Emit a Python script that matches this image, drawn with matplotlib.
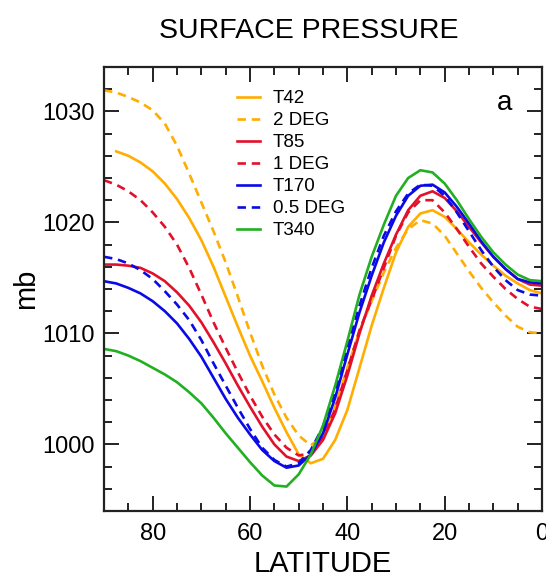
import numpy as np
import matplotlib
matplotlib.use("Agg")
import matplotlib.pyplot as plt
from matplotlib.ticker import MultipleLocator

plt.rcParams['font.family'] = ['Liberation Sans', 'DejaVu Sans']

# latitude grid (deg N), 90 -> 0 every 2.5
lat = np.arange(90, -0.1, -2.5)

t42 = [np.nan, 1026.4, 1026.0, 1025.4, 1024.6, 1023.5, 1022.1, 1020.4, 1018.4,
       1016.0, 1013.3, 1010.6, 1008.0, 1005.7, 1003.3, 1001.1, 999.1, 998.3,
       998.7, 1000.4, 1003.1, 1006.9, 1010.7, 1014.1, 1017.3, 1019.6, 1020.8,
       1021.1, 1020.5, 1019.4, 1018.2, 1017.1, 1016.1, 1015.2, 1014.5, 1013.9,
       1013.6]
deg2 = [1031.9, 1031.7, 1031.3, 1030.8, 1030.1, 1028.9, 1026.9, 1024.4, 1021.8,
        1019.2, 1016.4, 1013.3, 1010.1, 1007.1, 1004.5, 1002.4, 1000.8, 999.9,
        1000.8, 1003.4, 1006.9, 1010.2, 1012.9, 1015.5, 1017.7, 1019.4, 1020.2,
        1019.9, 1018.8, 1017.2, 1015.6, 1014.1, 1012.8, 1011.6, 1010.6, 1010.1,
        1010.0]
t85 = [1016.2, 1016.2, 1016.1, 1015.9, 1015.4, 1014.7, 1013.7, 1012.5, 1011.0,
       1009.2, 1007.3, 1005.3, 1003.4, 1001.6, 1000.0, 998.9, 998.5, 999.0,
       1000.4, 1002.8, 1006.2, 1010.0, 1013.4, 1016.3, 1018.9, 1021.1, 1022.4,
       1022.8, 1022.2, 1021.0, 1019.6, 1018.2, 1016.9, 1015.8, 1014.9, 1014.4,
       1014.3]
deg1 = [1023.8, 1023.4, 1022.8, 1022.0, 1020.9, 1019.6, 1018.0, 1015.9, 1013.5,
        1011.0, 1008.7, 1006.5, 1004.4, 1002.5, 1000.9, 999.7, 999.0, 999.2,
        1000.6, 1003.2, 1006.7, 1010.3, 1013.0, 1015.9, 1018.8, 1020.9, 1022.0,
        1022.0, 1020.9, 1019.4, 1017.8, 1016.3, 1015.1, 1014.0, 1013.1, 1012.4,
        1012.2]
t170 = [1014.7, 1014.5, 1014.1, 1013.6, 1012.9, 1012.0, 1010.9, 1009.5, 1007.9,
        1006.0, 1004.1, 1002.4, 1000.9, 999.5, 998.5, 997.9, 998.1, 999.1,
        1001.0, 1004.2, 1008.1, 1011.9, 1015.2, 1018.2, 1020.6, 1022.4, 1023.3,
        1023.4, 1022.7, 1021.4, 1019.9, 1018.3, 1016.9, 1015.8, 1014.9, 1014.6,
        1014.5]
deg05 = [1016.9, 1016.7, 1016.3, 1015.7, 1014.9, 1013.8, 1012.6, 1011.2, 1009.4,
         1007.3, 1005.3, 1003.3, 1001.4, 999.7, 998.6, 998.0, 998.3, 999.5,
         1001.6, 1004.8, 1008.7, 1012.5, 1015.9, 1018.8, 1021.0, 1022.6, 1023.4,
         1023.3, 1022.4, 1020.9, 1019.2, 1017.5, 1016.0, 1014.8, 1013.9, 1013.5,
         1013.4]
t340 = [1008.6, 1008.4, 1008.0, 1007.5, 1006.9, 1006.3, 1005.6, 1004.7, 1003.7,
        1002.4, 1001.0, 999.7, 998.4, 997.2, 996.3, 996.2, 997.3, 999.1,
        1001.7, 1005.3, 1009.3, 1013.5, 1016.9, 1019.8, 1022.4, 1024.0, 1024.7,
        1024.5, 1023.5, 1022.0, 1020.3, 1018.7, 1017.3, 1016.2, 1015.3, 1014.8,
        1014.7]

names = ['T42', '2 DEG', 'T85', '1 DEG', 'T170', '0.5 DEG', 'T340']
series = [t42, deg2, t85, deg1, t170, deg05, t340]
orange, red, blue, green = '#FFAD00', '#E3102C', '#0A0AE6', '#22B022'
colors = [orange, orange, red, red, blue, blue, green]
dashed = [False, True, False, True, False, True, False]

fig = plt.figure(figsize=(5.46, 5.77), dpi=100)
ax = fig.add_axes([0.1905, 0.1144, 0.8022, 0.7695])

for y, name, c, d in zip(series, names, colors, dashed):
    ax.plot(lat, y, color=c, lw=1.9, label=name,
            ls=(0, (3.2, 2.2)) if d else '-')

ax.set_xlim(90, 0)
ax.set_ylim(994, 1034)
ax.xaxis.set_major_locator(MultipleLocator(20))
ax.xaxis.set_minor_locator(MultipleLocator(5))
ax.yaxis.set_major_locator(MultipleLocator(10))
ax.yaxis.set_minor_locator(MultipleLocator(2))
ax.tick_params(which='both', direction='in', top=True, right=True,
               width=1.4, color='#222222', labelsize=17)
ax.tick_params(which='major', length=10.5, pad=7)
ax.tick_params(which='minor', length=5.5)
ax.tick_params(axis='x', which='major', pad=9)
for s in ax.spines.values():
    s.set_linewidth(1.6)
    s.set_color('#222222')

ax.set_xlabel('LATITUDE', fontsize=21, labelpad=3)
ax.set_ylabel('mb', fontsize=21, labelpad=1.5)
fig.text(0.566, 0.947, 'SURFACE PRESSURE', fontsize=20.5,
         ha='center', va='center')
ax.text(0.915, 0.92, 'a', transform=ax.transAxes, fontsize=20,
        ha='center', va='center')

ax.legend(loc='upper left', bbox_to_anchor=(0.304, 0.948), frameon=False,
          fontsize=13.5, handlelength=1.2, handletextpad=0.7,
          labelspacing=0.26, borderaxespad=0, borderpad=0)

fig.savefig('out.png', dpi=100)
